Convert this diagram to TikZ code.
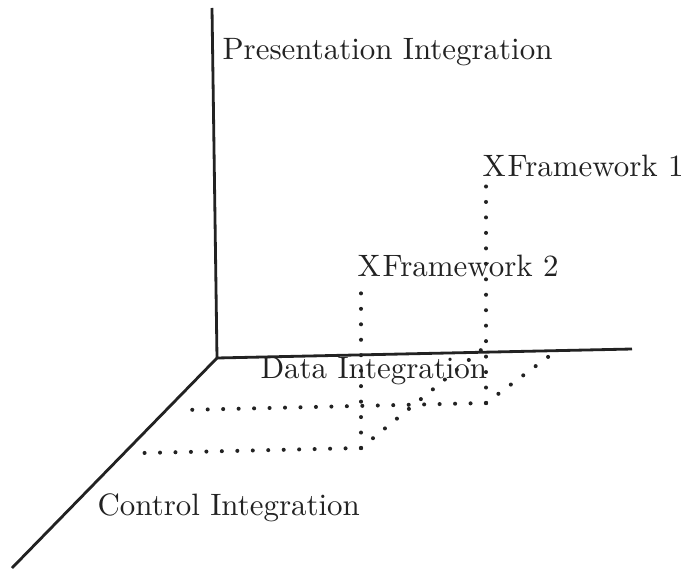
\documentclass[tikz,border=0pt]{standalone}
\usepackage{tikz}
\usetikzlibrary{calc}
\definecolor{tinte}{HTML}{222222}
\tikzset{
  achse/.style={tinte,line width=1.6pt},
  punkte/.style={tinte,line width=2.3pt,line cap=round,dash pattern=on 0pt off 8.8pt},
  beschr/.style={tinte,font=\fontsize{10}{12}\selectfont,scale=1.76,anchor=base west,inner sep=0pt},
}

\begin{document}
\begin{tikzpicture}
  \useasboundingbox (-4.34,-4.30) rectangle (9.32,7.16);
  \coordinate (O) at (0,0);
  \coordinate (pres) at (-0.10,7.00);
  \coordinate (data) at (8.30,0.18);
  \coordinate (ctrl) at (-4.10,-4.20);
  \coordinate (fa) at (2.88,-1.80);   \coordinate (fat) at (2.88,1.52);
  \coordinate (fb) at (5.38,-0.90);   \coordinate (fbt) at (5.38,3.56);
  \coordinate (fa-c) at (-1.48,-1.90); \coordinate (fa-d) at (5.28,0.16);
  \coordinate (fb-c) at (-0.68,-1.04); \coordinate (fb-d) at (6.70,0.08);
  \draw[achse] (pres) -- (O) -- (data);
  \draw[achse] (O) -- (ctrl);
  \foreach \a/\b in {fa/fat,fa/fa-c,fa/fa-d,fb/fbt,fb/fb-c,fb/fb-d}
    \draw[punkte] (\a) -- (\b);
  \node[beschr] (lpres) at (0.10,5.96) {Presentation Integration};
  \node[beschr] (ldata) at (0.86,-0.40) {Data Integration};
  \node[beschr] (lctrl) at (-2.40,-3.14) {Control Integration};
  \node[beschr] (lfb) at (5.30,3.63) {X\kern0.6pt Framework 1};
  \node[beschr] (lfa) at (2.80,1.63) {X\kern0.6pt Framework 2};
\end{tikzpicture}
\end{document}
